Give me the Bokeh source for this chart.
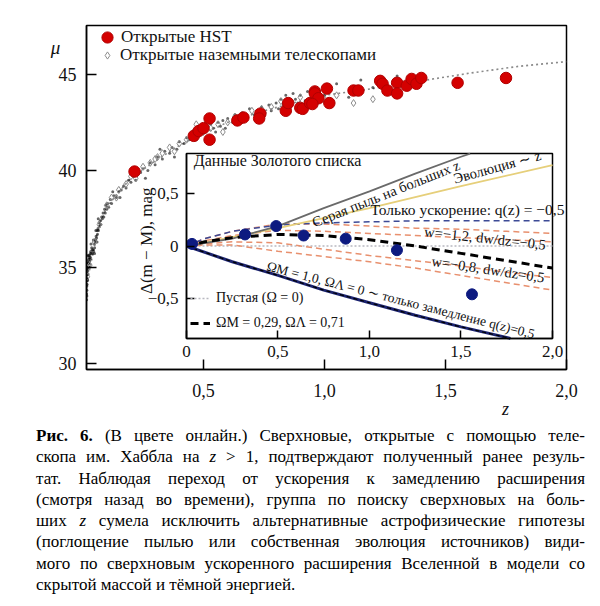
from bokeh.plotting import figure
from bokeh.models import (Range1d, FixedTicker, CustomJSTickFormatter, LinearAxis, Label,
                          Legend, LegendItem, Div, ColumnDataSource, Whisker)
from bokeh.layouts import column
from bokeh.embed import file_html
from bokeh.resources import INLINE

# ---------------- main panel data ----------------
model_z = [0.0165, 0.02, 0.03, 0.04, 0.05, 0.07, 0.1, 0.15, 0.2, 0.3, 0.4, 0.5, 0.6, 0.75, 0.9, 1.0, 1.2, 1.4, 1.6, 1.8, 2.0]
model_mu = [33.8, 34.2, 34.9, 35.5, 36.1, 37.2, 38.1, 38.9, 39.6, 40.5, 41.3, 41.95, 42.5, 43.1, 43.6, 43.9, 44.25, 44.65, 45.05, 45.4, 45.65]

hst_z = [0.215, 0.46, 0.48, 0.50, 0.525, 0.525, 0.64, 0.665, 0.735, 0.73, 0.84, 0.85, 0.90, 0.91, 0.94,
         0.96, 0.96, 0.975, 0.95, 1.01, 1.02, 1.12, 1.14, 1.23, 1.24, 1.26, 1.30, 1.30, 1.34, 1.36,
         1.38, 1.40, 1.55, 1.75]
hst_mu = [39.95, 41.8, 42.05, 42.2, 41.6, 42.7, 42.6, 42.75, 42.95, 42.7, 43.1, 43.5, 43.25, 43.2, 43.5,
          44.1, 44.0, 43.75, 43.45, 44.25, 43.5, 44.15, 44.15, 44.65, 44.5, 44.15, 44.55, 44.0, 44.4, 44.75,
          44.5, 44.8, 44.55, 44.8]

gnd_z = [0.02, 0.03, 0.05, 0.07, 0.1, 0.12, 0.15, 0.18, 0.2, 0.23, 0.25, 0.28, 0.3, 0.33, 0.36, 0.4,
         0.43, 0.46, 0.5, 0.53, 0.56, 0.6, 0.63, 0.66, 0.7, 0.74, 0.78, 0.82, 0.86, 0.9, 0.95, 1.0,
         1.05, 1.12, 1.2, 0.75, 0.58, 0.47, 1.35, 0.14, 0.22, 0.31, 0.38]
gnd_mu = [34.5, 35.1, 36.3, 37.2, 38.2, 38.6, 39.0, 39.3, 39.7, 39.9, 40.2, 40.4, 40.6, 40.9, 41.2, 41.4,
          41.6, 41.9, 42.0, 42.2, 42.4, 42.5, 42.8, 42.6, 43.1, 43.2, 43.3, 43.6, 43.4, 43.8, 44.0, 43.7,
          43.9, 43.5, 43.7, 43.0, 42.0, 42.4, 44.4, 38.6, 39.6, 40.7, 41.0]

dot_z = [0.017, 0.017, 0.017, 0.018, 0.018, 0.018, 0.019, 0.019, 0.020, 0.020, 0.021, 0.021, 0.022, 0.022,
         0.023, 0.024, 0.025, 0.026, 0.027, 0.028, 0.029, 0.030, 0.031, 0.032, 0.033, 0.034, 0.036, 0.038,
         0.040, 0.017, 0.018, 0.021, 0.025, 0.030, 0.035, 0.017, 0.019, 0.023,
         0.042, 0.044, 0.046, 0.048, 0.050, 0.052, 0.054, 0.056, 0.058, 0.060, 0.062, 0.064, 0.066, 0.068,
         0.070, 0.045, 0.050, 0.055, 0.060, 0.065,
         0.073, 0.076, 0.079, 0.082, 0.085, 0.088, 0.091, 0.094, 0.097, 0.100, 0.104, 0.108,
         0.115, 0.12, 0.13, 0.14, 0.15, 0.16, 0.17, 0.18, 0.19, 0.20, 0.125, 0.155,
         0.21, 0.22, 0.24, 0.25, 0.27, 0.28, 0.30, 0.31, 0.33, 0.34, 0.36, 0.37, 0.39, 0.40, 0.42, 0.43,
         0.44, 0.26, 0.32, 0.38,
         0.45, 0.46, 0.47, 0.48, 0.49, 0.50, 0.51, 0.52, 0.53, 0.54, 0.55, 0.56, 0.57, 0.58, 0.59, 0.60,
         0.62, 0.63, 0.65, 0.66, 0.68, 0.69, 0.71, 0.72, 0.74, 0.75, 0.77, 0.78, 0.80, 0.81, 0.82, 0.83,
         0.84, 0.85, 0.86, 0.87, 0.88, 0.89, 0.90, 0.92, 0.93, 0.95, 0.97, 1.00,
         1.05, 1.10, 1.15, 1.20, 1.30]
dot_mu = [33.6, 34.0, 34.4, 33.8, 34.3, 34.7, 34.1, 34.6, 34.4, 34.9, 34.6, 35.0, 34.8, 35.2,
          35.0, 35.2, 35.0, 35.4, 35.2, 35.5, 35.3, 35.6, 35.4, 35.7, 35.5, 35.8, 35.7, 36.0,
          35.9, 33.3, 33.5, 34.3, 35.6, 35.0, 36.2, 34.9, 35.3, 35.6,
          35.7, 35.9, 35.8, 36.2, 36.0, 36.4, 36.3, 36.6, 36.5, 36.9, 36.7, 37.0, 36.9, 37.3,
          37.1, 36.4, 35.7, 36.9, 36.3, 37.5,
          37.4, 37.2, 37.6, 37.5, 37.8, 37.6, 38.0, 37.8, 38.2, 38.0, 38.3, 38.1,
          38.5, 38.3, 38.7, 38.6, 38.9, 39.0, 39.2, 39.1, 39.5, 39.4, 38.9, 38.6,
          39.7, 39.5, 39.9, 40.1, 40.0, 40.4, 40.3, 40.7, 40.6, 41.0, 40.9, 41.2, 41.1, 41.5, 41.4, 41.7,
          41.6, 39.6, 41.1, 40.7,
          41.8, 42.1, 41.6, 42.0, 41.9, 42.3, 42.1, 41.7, 42.4, 42.2, 42.0, 42.5, 42.3, 42.6, 42.2, 42.7,
          42.5, 42.9, 42.6, 43.0, 42.8, 43.2, 42.9, 43.1, 43.3, 42.9, 43.4, 43.1, 43.5, 43.2, 43.7, 43.4,
          43.9, 43.6, 43.3, 44.0, 43.7, 43.5, 43.9, 43.6, 44.1, 43.8, 44.2, 43.9,
          44.5, 43.8, 44.7, 44.3, 44.9]

main_xticks = [0.5, 1.0, 1.5, 2.0]
main_yticks = [30, 35, 40, 45]

# ---------------- inset data ----------------
iz = [0, 0.1, 0.25, 0.5, 0.75, 1.0, 1.25, 1.5, 1.75, 2.0]
lcdm = [0, 0.04, 0.08, 0.11, 0.10, 0.06, 0.00, -0.07, -0.14, -0.21]
accel = [0, 0.07, 0.14, 0.20, 0.22, 0.23, 0.24, 0.24, 0.24, 0.24]
w12_hi = [0, 0.07, 0.14, 0.21, 0.21, 0.19, 0.17, 0.16, 0.14, 0.12]
w12_lo = [0, 0.05, 0.10, 0.15, 0.14, 0.12, 0.10, 0.08, 0.06, 0.04]
w08_hi = [0, 0.02, 0.04, 0.03, -0.03, -0.09, -0.14, -0.19, -0.25, -0.30]
w08_lo = [0, 0.01, 0.01, -0.05, -0.10, -0.15, -0.21, -0.28, -0.35, -0.42]
empty_z = [0, 2.0]
empty_v = [0, 0]
decel_z = [0, 0.25, 0.5, 0.75, 1.0, 1.25, 1.5, 1.77]
decel_v = [0, -0.15, -0.28, -0.42, -0.54, -0.66, -0.77, -0.88]
dust_z = [0, 0.25, 0.5, 0.75, 1.0, 1.25, 1.5, 1.55]
dust_v = [0, 0.07, 0.19, 0.36, 0.52, 0.69, 0.85, 0.88]
evol_z = [0, 0.5, 1.0, 1.5, 2.0]
evol_v = [0, 0.17, 0.36, 0.57, 0.77]
gold_z = [0.03, 0.32, 0.49, 0.64, 0.87, 1.15, 1.56]
gold_v = [0.02, 0.11, 0.19, 0.10, 0.07, -0.04, -0.46]
gold_err = [0.03, 0.04, 0.05, 0.05, 0.06, 0.08, 0.25]
inset_xticks = [0, 0.5, 1.0, 1.5, 2.0]
inset_yticks = [-0.5, 0, 0.5]

# ranges
MX0, MX1 = 0.0165, 2.0
MY0, MY1 = 29.69, 47.52
IX0, IX1 = 0.0, 2.0
IY0, IY1 = -0.88, 0.88
IXR0, IXR1 = -0.5464, 2.0765
IYR0, IYR1 = -1.176, 2.1

SERIF = "Liberation Serif"
INK = "#111111"

p = figure(frame_width=480, frame_height=344, min_border_left=86, min_border_right=34,
           min_border_top=25, min_border_bottom=60,
           x_range=Range1d(MX0, MX1), y_range=Range1d(MY0, MY1),
           output_backend="svg", toolbar_location=None, tools="")
p.extra_x_ranges = {"ix": Range1d(IXR0, IXR1)}
p.extra_y_ranges = {"iy": Range1d(IYR0, IYR1)}
p.grid.visible = False
p.outline_line_color = "black"
p.outline_line_width = 1.5
p.background_fill_color = "white"
p.border_fill_color = "white"

comma_fmt = CustomJSTickFormatter(code="""
var s = (Math.abs(tick) < 1e-9) ? '0' : tick.toFixed(1).replace('.', ',');
return s.replace('-', '\u2212');
""")

def style_axis(ax, size, tick_in):
    ax.axis_line_width = 1.5
    ax.major_tick_line_width = 1.5
    ax.major_tick_in = tick_in
    ax.major_tick_out = 0
    ax.minor_tick_in = 0
    ax.minor_tick_out = 0
    ax.major_label_text_font = SERIF
    ax.major_label_text_font_size = size
    ax.major_label_text_color = INK

style_axis(p.xaxis[0], "18px", 10)
style_axis(p.yaxis[0], "18px", 10)
p.xaxis[0].ticker = FixedTicker(ticks=main_xticks)
p.xaxis[0].formatter = comma_fmt
p.xaxis[0].major_label_standoff = 14
p.yaxis[0].ticker = FixedTicker(ticks=main_yticks)
p.yaxis[0].major_label_standoff = 10

# axis names, placed in the side panels (canvas pixel units) so they are not clipped to the frame
p.add_layout(Label(x=505, y=408, x_units="canvas", y_units="canvas", text="z",
                   text_align="center", text_baseline="middle", text_font=SERIF,
                   text_font_size="18px", text_font_style="italic", text_color=INK), "below")
p.add_layout(Label(x=55, y=47, x_units="canvas", y_units="canvas", text="μ",
                   text_align="center", text_baseline="middle", text_font=SERIF,
                   text_font_size="19px", text_font_style="italic", text_color=INK), "left")

# main glyphs
p.line(model_z, model_mu, line_color="#8a8a8a", line_dash="2 3", line_width=1.6)
p.scatter(dot_z, dot_mu, size=3, marker="circle", fill_color="black", line_color=None, fill_alpha=0.6)
gnd_r = p.scatter(gnd_z, gnd_mu, size=7, marker="diamond", fill_color=None,
                  line_color="#8c8c8c", line_width=1.0)
hst_r = p.scatter(hst_z, hst_mu, size=11.5, marker="circle", fill_color="#d40000",
                  line_color="#b00000", line_width=1)

# inset background + frame
p.quad(left=IX0, right=IX1, bottom=IY0, top=IY1, x_range_name="ix", y_range_name="iy",
       fill_color="white", line_color="black", line_width=1.5)

kw = dict(x_range_name="ix", y_range_name="iy")
empty_r = p.line(empty_z, empty_v, line_color="#b8b8c0", line_dash="2 2", line_width=1.5, **kw)
for ser in (w12_hi, w12_lo, w08_hi, w08_lo):
    p.line(iz, ser, line_color="#e8906e", line_dash="6 4", line_width=1.5, **kw)
p.line(iz, accel, line_color="#3c4a96", line_dash="6 4", line_width=1.5, **kw)
p.line(evol_z, evol_v, line_color="#e6cf7a", line_width=1.8, **kw)
p.line(dust_z, dust_v, line_color="#6a6a6a", line_width=1.8, **kw)
p.line(decel_z, decel_v, line_color="#1c2470", line_width=3, **kw)
p.line(decel_z, decel_v, line_color="black", line_dash="4 3", line_width=1.2, **kw)
lcdm_r = p.line(iz, lcdm, line_color="black", line_dash="8 5", line_width=3, **kw)

gsrc = ColumnDataSource(dict(z=gold_z, v=gold_v,
                             lo=[a - b for a, b in zip(gold_v, gold_err)],
                             hi=[a + b for a, b in zip(gold_v, gold_err)]))
p.add_layout(Whisker(source=gsrc, base="z", lower="lo", upper="hi", line_color="#b4bcd4",
                     line_width=1.5, upper_head=None, lower_head=None, **kw))
p.scatter("z", "v", source=gsrc, size=11, marker="circle", fill_color="#0d1a80",
          line_color="#0d1a80", **kw)

# inset axes (drawn at the inset's own edges)
iax_b = LinearAxis(fixed_location=IY0, bounds=(IX0, IX1), ticker=FixedTicker(ticks=inset_xticks),
                   formatter=comma_fmt, **kw)
iax_l = LinearAxis(fixed_location=IX0, bounds=(IY0, IY1), ticker=FixedTicker(ticks=inset_yticks),
                   formatter=comma_fmt, **kw)
for ax in (iax_b, iax_l):
    style_axis(ax, "17px", 8)
    ax.major_label_standoff = 8
p.add_layout(iax_b, "below")
p.add_layout(iax_l, "left")

# inset texts
def lab(text, x, y, size="14px", angle=0.0, align="left", baseline="alphabetic", style="normal"):
    p.add_layout(Label(x=x, y=y, text=text, angle=angle, text_align=align, text_baseline=baseline,
                       text_font=SERIF, text_font_size=size, text_font_style=style,
                       text_color=INK, **kw))

lab("Данные Золотого списка", 0.04, 0.81, size="16px", baseline="middle")
lab("Серая пыль на больших z", 0.69, 0.22, size="14.5px", angle=0.38)
lab("Эволюция ∼ z", 1.46, 0.64, size="14.5px", angle=0.27)
lab("Только ускорение: q(z) = −0,5", 1.005, 0.35, size="15.5px", baseline="middle")
lab("w=−1,2, dw/dz=−0,5", 1.30, 0.14, size="14.5px", angle=-0.11)
lab("w=−0,8, dw/dz=0,5", 1.34, -0.14, size="14.5px", angle=-0.15)
lab("ΩM = 1,0, ΩΛ = 0 ∼ только замедление q(z)=0,5", 0.44, -0.19, size="13.5px", angle=-0.25)
lab("Δ(m − M), mag", -0.219, 0.05, size="17px", angle=1.5708, align="center", baseline="middle")

# legends
leg_hst = Legend(items=[LegendItem(label="Открытые HST", renderers=[hst_r])],
                 location=(7, 318), glyph_width=28, glyph_height=28, label_height=28,
                 label_standoff=0, padding=0, margin=0, spacing=0,
                 background_fill_alpha=0, border_line_alpha=0,
                 label_text_font=SERIF, label_text_font_size="17px", label_text_color=INK)
leg_gnd = Legend(items=[LegendItem(label="Открытые наземными телескопами", renderers=[gnd_r])],
                 location=(12, 304), glyph_width=18, glyph_height=18, label_height=18,
                 label_standoff=4, padding=0, margin=0, spacing=0,
                 background_fill_alpha=0, border_line_alpha=0,
                 label_text_font=SERIF, label_text_font_size="17px", label_text_color=INK)
leg_in = Legend(items=[LegendItem(label="Пустая (Ω = 0)", renderers=[empty_r]),
                       LegendItem(label="ΩM = 0,29, ΩΛ = 0,71", renderers=[lcdm_r])],
                location=(100, 32), glyph_width=20, glyph_height=20, label_height=20,
                label_standoff=6, padding=4, margin=0, spacing=5,
                background_fill_alpha=0, border_line_alpha=0,
                label_text_font=SERIF, label_text_font_size="14px", label_text_color=INK)
for lg in (leg_hst, leg_gnd, leg_in):
    p.add_layout(lg, "center")

# caption
J = "text-align:justify;text-align-last:justify;"
caption_lines = [
    "<b>Рис. 6.</b> (В цвете онлайн.) Сверхновые, открытые с помощью теле-",
    "скопа им. Хаббла на <i>z</i> &gt; 1, подтверждают полученный ранее резуль-",
    "тат. Наблюдая переход от ускорения к замедлению расширения",
    "(смотря назад во времени), группа по поиску сверхновых на боль-",
    "ших <i>z</i> сумела исключить альтернативные астрофизические гипотезы",
    "(поглощение пылью или собственная эволюция источников) види-",
    "мого по сверхновым ускоренного расширения Вселенной в модели со",
]
last_line = "скрытой массой и тёмной энергией."
html = ("<div style=\"font-family:'Liberation Serif';font-size:17px;line-height:21.3px;color:#000;"
        "width:549px;margin-left:36px;margin-top:-4px;white-space:nowrap;\">")
for ln in caption_lines:
    html += f"<div style='{J}'>{ln}</div>"
html += f"<div>{last_line}</div></div>"
cap = Div(text=html, width=600, height=170, margin=(0, 0, 0, 0))

layout = column(p, cap, spacing=0)
open("out.html", "w").write(file_html(layout, INLINE))
